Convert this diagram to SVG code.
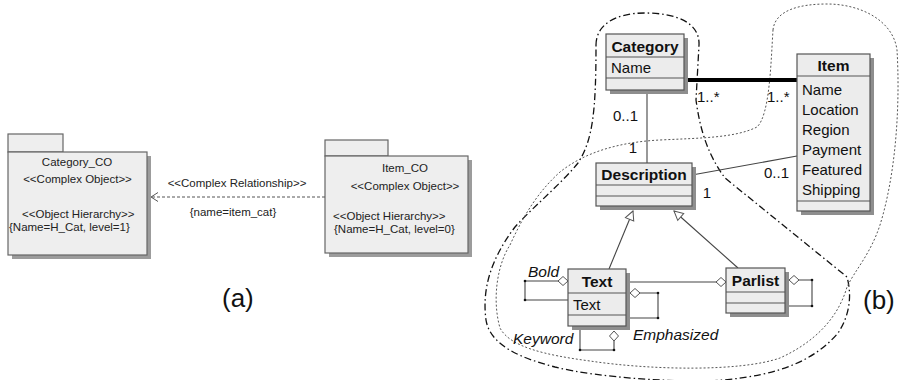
<svg xmlns="http://www.w3.org/2000/svg" width="901" height="380" viewBox="0 0 901 380">
  <style>
    text { font-family: "Liberation Sans", Arial, sans-serif; fill: #111; }
    .pkg { fill: #eeeeee; stroke: #666; stroke-width: 1.2; }
    .pshadow { fill: #9c9c9c; }
    .pt { font-size: 11.5px; fill: #222; }
    .box { fill: #ececec; stroke: #555; stroke-width: 1.2; }
    .shadow { fill: #8e8e8e; }
    .div { stroke: #555; stroke-width: 1.2; }
    .ttl { font-size: 15.5px; font-weight: bold; text-anchor: middle; }
    .attr { font-size: 15px; }
    .mult { font-size: 15px; }
    .role { font-size: 15.5px; font-style: italic; }
    .cap { font-size: 26px; }
    .conn { fill: none; stroke: #444; stroke-width: 1.1; }
    .dot { fill: #111; }
    .dashdot { fill: none; stroke: #111; stroke-width: 1.3; stroke-dasharray: 7 3 1.5 3; }
    .dotted { fill: none; stroke: #555; stroke-width: 1; stroke-dasharray: 2 2; }
  </style>
  <defs>
    <marker id="gen" viewBox="-11 -6 12 12" refX="0" refY="0" markerWidth="12" markerHeight="12" markerUnits="userSpaceOnUse" orient="auto">
      <path d="M0,0 L-9,-4.5 L-9,4.5 Z" fill="#fff" stroke="#555" stroke-width="1"/>
    </marker>
    <marker id="agg" viewBox="-11 -6 12 12" refX="0" refY="0" markerWidth="12" markerHeight="12" markerUnits="userSpaceOnUse" orient="auto">
      <path d="M0,0 L-5,-4.5 L-10,0 L-5,4.5 Z" fill="#fff" stroke="#555" stroke-width="1"/>
    </marker>
    <marker id="open" viewBox="-9 -6 10 12" refX="0" refY="0" markerWidth="10" markerHeight="12" markerUnits="userSpaceOnUse" orient="auto">
      <path d="M-7,-4.5 L0,0 L-7,4.5" fill="none" stroke="#555" stroke-width="1"/>
    </marker>
  </defs>

  <!-- (a) packages -->
  <g id="category_co">
    <rect class="pshadow" x="12" y="156" width="139" height="103"/>
    <rect class="pkg" x="8" y="134" width="55" height="18"/>
    <rect class="pkg" x="8" y="152" width="139" height="103"/>
    <text class="pt" x="77" y="166" text-anchor="middle">Category_CO</text>
    <text class="pt" x="77.5" y="183" text-anchor="middle">&lt;&lt;Complex Object&gt;&gt;</text>
    <text class="pt" x="22" y="218">&lt;&lt;Object Hierarchy&gt;&gt;</text>
    <text class="pt" x="9" y="231">{Name=H_Cat, level=1}</text>
  </g>
  <g id="item_co">
    <rect class="pshadow" x="329" y="160" width="143" height="97"/>
    <rect class="pkg" x="325" y="140" width="63" height="16"/>
    <rect class="pkg" x="325" y="156" width="143" height="97"/>
    <text class="pt" x="405" y="172" text-anchor="middle">Item_CO</text>
    <text class="pt" x="405" y="190" text-anchor="middle">&lt;&lt;Complex Object&gt;&gt;</text>
    <text class="pt" x="333" y="220">&lt;&lt;Object Hierarchy&gt;&gt;</text>
    <text class="pt" x="334" y="233">{Name=H_Cat, level=0}</text>
  </g>

  <!-- region outlines -->
  <path class="dashdot" d="M596,45 C596,25 615,13 645,13 C675,13 700,22 699,45 L696,100 C700,130 708,155 725,178 L847,277 C852,295 850,315 838,333 C815,360 780,375 723,380 C680,383 600,378 555,367 C520,358 490,345 486,320 C482,290 490,260 515,227 C535,205 560,185 578,163 C593,140 596,110 596,45 Z"/>
  <path class="dotted" d="M773,30 C775,10 800,4 827,4 C860,4 893,20 897,50 C900,100 897,170 880,225 C870,255 855,270 847,287 C838,318 815,342 780,358 C740,372 650,370 590,361 C545,355 510,347 500,328 C492,300 497,265 510,245 C525,212 540,190 560,172 C585,152 620,142 660,140 C700,138 735,138 757,127 C770,115 771,60 773,30 Z"/>

  <!-- connectors -->
  <g id="connectors">
    <line x1="325" y1="197" x2="151" y2="197" stroke="#555" stroke-width="1" stroke-dasharray="3 2" marker-end="url(#open)"/>
    <line x1="684" y1="80" x2="797" y2="80" stroke="#000" stroke-width="4"/>
    <line class="conn" x1="647" y1="90" x2="647" y2="163"/>
    <line class="conn" x1="692" y1="175" x2="797" y2="156"/>
    <line class="conn" x1="609" y1="269" x2="633" y2="211" marker-end="url(#gen)"/>
    <line class="conn" x1="738" y1="268" x2="674" y2="211" marker-end="url(#gen)"/>
    <path class="conn" d="M626,282 H726" marker-end="url(#agg)"/>
    <path class="conn" d="M568,300 H525 V281 H568" marker-end="url(#agg)"/>
    <path class="conn" d="M580,326 V350 H614 V331" marker-end="url(#agg)"/>
    <path class="conn" d="M626,318 H658 V293 H630" marker-end="url(#agg)"/>
    <path class="conn" d="M785,306 H812 V280 H789" marker-end="url(#agg)"/>
    <circle class="dot" cx="525" cy="281" r="1.3"/>
    <circle class="dot" cx="525" cy="300" r="1.3"/>
    <circle class="dot" cx="580" cy="350" r="1.3"/>
    <circle class="dot" cx="614" cy="350" r="1.3"/>
    <circle class="dot" cx="658" cy="293" r="1.3"/>
    <circle class="dot" cx="658" cy="318" r="1.3"/>
    <circle class="dot" cx="812" cy="280" r="1.3"/>
    <circle class="dot" cx="812" cy="306" r="1.3"/>
  </g>

  <!-- connector labels -->
  <text class="pt" x="237" y="187" text-anchor="middle">&lt;&lt;Complex Relationship&gt;&gt;</text>
  <text class="pt" x="233" y="216" text-anchor="middle">{name=item_cat}</text>
  <text class="mult" x="613" y="121">0..1</text>
  <text class="mult" x="633" y="153" text-anchor="middle">1</text>
  <text class="mult" x="697" y="102">1..*</text>
  <text class="mult" x="767" y="102">1..*</text>
  <text class="mult" x="764" y="178">0..1</text>
  <text class="mult" x="707" y="198" text-anchor="middle">1</text>
  <text class="role" x="528" y="277">Bold</text>
  <text class="role" x="513" y="344">Keyword</text>
  <text class="role" x="633" y="340">Emphasized</text>

  <!-- (b) classes -->
  <g id="category">
    <rect class="shadow" x="610" y="38" width="78" height="56"/>
    <rect class="box" x="606" y="34" width="78" height="56"/>
    <line class="div" x1="606" y1="57" x2="684" y2="57"/>
    <line class="div" x1="606" y1="78" x2="684" y2="78"/>
    <text class="ttl" x="645" y="51.5">Category</text>
    <text class="attr" x="611" y="72.5">Name</text>
  </g>
  <g id="item">
    <rect class="shadow" x="801" y="58" width="73" height="157"/>
    <rect class="box" x="797" y="54" width="73" height="157"/>
    <line class="div" x1="797" y1="76" x2="870" y2="76"/>
    <line class="div" x1="797" y1="201" x2="870" y2="201"/>
    <text class="ttl" x="833.5" y="70.5">Item</text>
    <text class="attr" x="802" y="94.5">Name</text>
    <text class="attr" x="802" y="114.5">Location</text>
    <text class="attr" x="802" y="134.5">Region</text>
    <text class="attr" x="802" y="154.5">Payment</text>
    <text class="attr" x="802" y="174.5">Featured</text>
    <text class="attr" x="802" y="195">Shipping</text>
  </g>
  <g id="description">
    <rect class="shadow" x="600" y="167" width="96" height="43"/>
    <rect class="box" x="596" y="163" width="96" height="43"/>
    <line class="div" x1="596" y1="185" x2="692" y2="185"/>
    <line class="div" x1="596" y1="196" x2="692" y2="196"/>
    <text class="ttl" x="644" y="179.5">Description</text>
  </g>
  <g id="text">
    <rect class="shadow" x="572" y="273" width="58" height="57"/>
    <rect class="box" x="568" y="269" width="58" height="57"/>
    <line class="div" x1="568" y1="293" x2="626" y2="293"/>
    <line class="div" x1="568" y1="315" x2="626" y2="315"/>
    <text class="ttl" x="597" y="286.5">Text</text>
    <text class="attr" x="573" y="309.5">Text</text>
  </g>
  <g id="parlist">
    <rect class="shadow" x="730" y="272" width="59" height="45"/>
    <rect class="box" x="726" y="268" width="59" height="45"/>
    <line class="div" x1="726" y1="292" x2="785" y2="292"/>
    <line class="div" x1="726" y1="303" x2="785" y2="303"/>
    <text class="ttl" x="755.5" y="285.5">Parlist</text>
  </g>

  <!-- captions -->
  <text class="cap" x="222" y="307">(a)</text>
  <text class="cap" x="863" y="309">(b)</text>
</svg>
